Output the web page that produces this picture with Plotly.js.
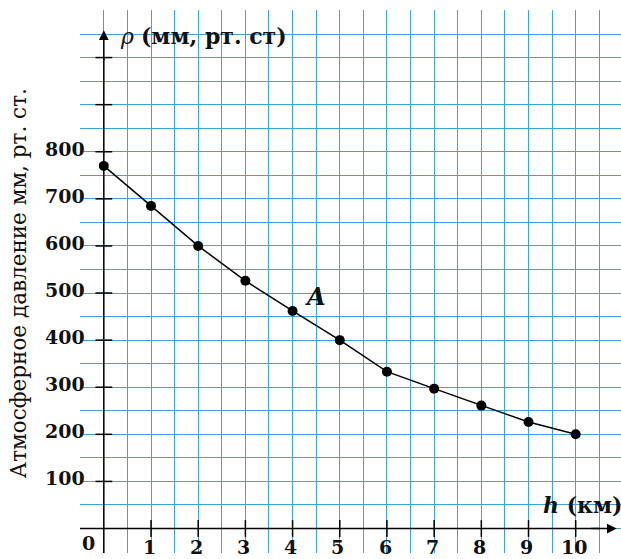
<!DOCTYPE html>
<html>
<head>
<meta charset="utf-8">
<script src="https://cdn.plot.ly/plotly-3.0.1.min.js"></script>
<style>html,body{margin:0;padding:0;background:#fff;}#chart{width:621px;height:559px;}</style>
</head>
<body>
<div id="chart"></div>
<script>
// Data
var heightKm = [0, 1, 2, 3, 4, 5, 6, 7, 8, 9, 10];
var pressure = [770, 685, 600, 526, 462, 400, 333, 297, 261, 226, 200];
var yTickVals = [100, 200, 300, 400, 500, 600, 700, 800, 900, 1000];
var yTickLabels = ['100', '200', '300', '400', '500', '600', '700', '800', '', ''];
var xTickVals = [1, 2, 3, 4, 5, 6, 7, 8, 9, 10];
var xTickLabels = ['1', '2', '3', '4', '5', '6', '7', '8', '9', '10'];

var FONT = 'DejaVu Serif, Liberation Serif, serif';

var traces = [
  { x: heightKm, y: pressure, mode: 'lines+markers', type: 'scatter',
    line: {color: '#000', width: 1.5}, marker: {color: '#000', size: 10}, hoverinfo: 'skip' },
  { x: yTickVals.map(function(){return 0;}), y: yTickVals, mode: 'markers', type: 'scatter',
    marker: {symbol: 'line-ew', size: 12, line: {color: '#000', width: 1.5}}, hoverinfo: 'skip' },
  { x: xTickVals, y: xTickVals.map(function(){return 0;}), mode: 'markers', type: 'scatter',
    marker: {symbol: 'line-ns', size: 12, line: {color: '#000', width: 1.5}}, hoverinfo: 'skip' }
];

var annotations = [];
yTickVals.forEach(function(v, i){
  if (!yTickLabels[i]) return;
  annotations.push({x: -0.36, y: v, xref: 'x', yref: 'y', text: '<b>' + yTickLabels[i] + '</b>', showarrow: false,
    xanchor: 'right', yanchor: 'middle', yshift: 3, font: {family: FONT, size: 19, color: '#111'}});
});
xTickVals.forEach(function(v, i){
  annotations.push({x: v - 0.04, y: -40, xref: 'x', yref: 'y', text: '<b>' + xTickLabels[i] + '</b>', showarrow: false,
    xanchor: 'center', yanchor: 'middle', font: {family: FONT, size: 19, color: '#111'}});
});
annotations.push({x: -0.32, y: -30, xref: 'x', yref: 'y', text: '<b>0</b>', showarrow: false,
  xanchor: 'center', yanchor: 'middle', font: {family: FONT, size: 19, color: '#111'}});
// axis arrows
annotations.push({x: 0, y: 1058, xref: 'x', yref: 'y', ax: 0, ay: 990, axref: 'x', ayref: 'y',
  text: '', showarrow: true, arrowhead: 2, arrowsize: 1.3, arrowwidth: 1.5, arrowcolor: '#000'});
annotations.push({x: 10.87, y: 0, xref: 'x', yref: 'y', ax: 10.3, ay: 0, axref: 'x', ayref: 'y',
  text: '', showarrow: true, arrowhead: 2, arrowsize: 1.3, arrowwidth: 1.5, arrowcolor: '#000'});
// axis names
annotations.push({x: 0.3, y: 1046, xref: 'x', yref: 'y', text: '<i>ρ</i> <b>(мм, рт. ст)</b>', showarrow: false,
  xanchor: 'left', yanchor: 'middle', font: {family: FONT, size: 22, color: '#111'}});
annotations.push({x: 9.26, y: 49, xref: 'x', yref: 'y', text: '<b><i>h</i> (км)</b>', showarrow: false,
  xanchor: 'left', yanchor: 'middle', font: {family: FONT, size: 22, color: '#111'}});
annotations.push({x: 4.49, y: 492, xref: 'x', yref: 'y', text: '<b><i>A</i></b>', showarrow: false,
  xanchor: 'center', yanchor: 'middle', font: {family: FONT, size: 24, color: '#111'}});
annotations.push({x: -0.1146, y: 0.497, xref: 'paper', yref: 'paper', text: 'Атмосферное давление мм, рт. ст.',
  showarrow: false, textangle: -90, xanchor: 'center', yanchor: 'middle', font: {family: FONT, size: 21.5, color: '#111'}});

var layout = {
  width: 621, height: 559,
  margin: {l: 80, r: 0, t: 10, b: 6, pad: 0},
  paper_bgcolor: '#fff', plot_bgcolor: '#fff',
  showlegend: false,
  xaxis: {range: [-0.505, 10.96], tick0: -0.5, dtick: 0.5, showgrid: true, gridcolor: '#3ba2e8', gridwidth: 1,
    zeroline: false, showticklabels: false, ticks: '', showline: false, fixedrange: true},
  yaxis: {range: [-52, 1101], tick0: 0, dtick: 50, showgrid: true, gridcolor: '#3ba2e8', gridwidth: 1,
    zeroline: false, showticklabels: false, ticks: '', showline: false, fixedrange: true},
  shapes: [
    {type: 'line', xref: 'x', yref: 'y', x0: 0, x1: 0, y0: -52, y1: 1000, line: {color: '#000', width: 1.5}},
    {type: 'line', xref: 'x', yref: 'y', x0: -0.505, x1: 10.5, y0: 0, y1: 0, line: {color: '#000', width: 1.5}}
  ],
  annotations: annotations
};

Plotly.newPlot('chart', traces, layout, {staticPlot: true, displayModeBar: false});
</script>
</body>
</html>
